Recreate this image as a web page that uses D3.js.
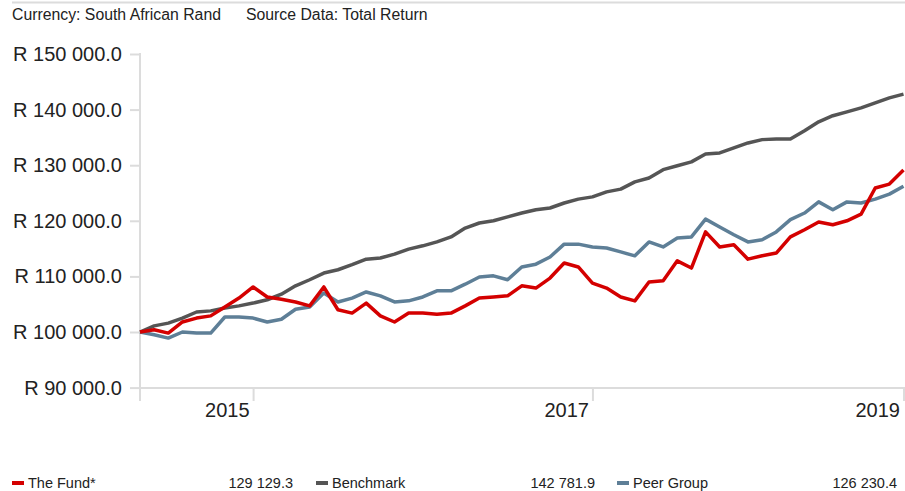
<!DOCTYPE html>
<html>
<head>
<meta charset="utf-8">
<script src="https://cdn.jsdelivr.net/npm/d3@7"></script>
<style>
  html, body { margin: 0; padding: 0; background: #fff; }
  svg { display: block; font-family: "Liberation Sans", Arial, sans-serif; }
</style>
</head>
<body>
<svg id="chart" width="905" height="491"></svg>
<script>
// ---- Data (monthly index points) ----
const fund = [100000,100400,99800,101800,102500,102900,104500,106100,108100,106300,
  105900,105400,104700,108100,104000,103400,105200,102900,101800,103400,
  103400,103200,103400,104700,106100,106300,106500,108300,107900,109700,
  112400,111700,108800,107900,106300,105600,109000,109200,112800,111500,
  118000,115300,115700,113100,113700,114200,117100,118400,119800,119300,
  120000,121200,125900,126600,129129.3];
const benchmark = [100000,101100,101600,102500,103600,103800,104300,104700,105200,105800,
  106800,108300,109400,110600,111200,112100,113100,113300,114000,114900,
  115500,116200,117100,118700,119600,120000,120700,121400,122000,122300,
  123200,123900,124300,125200,125700,127000,127700,129200,129900,130600,
  132000,132200,133100,134000,134600,134700,134700,136200,137800,138900,
  139600,140300,141200,142100,142781.9];
const peer = [100000,99500,98900,100000,99800,99800,102700,102700,102500,101800,
  102300,104100,104500,107000,105400,106100,107200,106500,105400,105600,
  106300,107400,107400,108600,109900,110100,109400,111700,112200,113500,
  115800,115800,115300,115100,114400,113700,116200,115300,116900,117100,
  120300,118900,117500,116200,116600,118000,120200,121400,123400,122000,
  123400,123200,123900,124800,126230.4];

const seriesNames = ["The Fund*", "Benchmark", "Peer Group"];
const seriesColors = ["#d40000", "#555555", "#5e7f97"];
const yTicks = [90000, 100000, 110000, 120000, 130000, 140000, 150000];
const xTickIndex = [8, 32, 54];
const xTickLabels = ["2015", "2017", "2019"];
const headerText = ["Currency: South African Rand", "Source Data: Total Return"];

// ---- Setup ----
const svg = d3.select("#chart");
const W = 905, H = 491;
const allSeries = [fund, benchmark, peer];
const n = fund.length;

const x = d3.scaleLinear().domain([0, n - 1]).range([140, 903.5]);
const y = d3.scaleLinear().domain([90000, 150000]).range([387.6, 54]);

const locale = d3.formatLocale({decimal: ".", thousands: " ", grouping: [3], currency: ["R ", ""]});
const fmtR = locale.format("$,.1f");
const fmtN = locale.format(",.1f");

const grid = "#dcdcdc";
const textColor = "#222";

// top rule
svg.append("line").attr("x1", 12).attr("x2", W).attr("y1", 2.5).attr("y2", 2.5)
  .attr("stroke", grid).attr("stroke-width", 2);

// header
const hdr = svg.append("text").attr("x", 12).attr("y", 20)
  .attr("font-size", 15.8).attr("fill", textColor);
hdr.append("tspan").text(headerText[0]);
hdr.append("tspan").attr("x", 246).text(headerText[1]);

// y axis
const yAxis = d3.axisLeft(y).tickValues(yTicks).tickSize(10).tickPadding(8).tickFormat(fmtR);
const gy = svg.append("g").attr("transform", "translate(140,0)").call(yAxis);
gy.select(".domain").remove();
gy.selectAll(".tick line").attr("stroke", grid).attr("stroke-width", 2);
gy.selectAll(".tick text").attr("font-size", 20).attr("fill", textColor)
  .attr("font-family", "'Liberation Sans', Arial, sans-serif");
svg.append("line").attr("x1", 140).attr("x2", 140).attr("y1", 53).attr("y2", 401)
  .attr("stroke", grid).attr("stroke-width", 2);

// x axis
svg.append("line").attr("x1", 140).attr("x2", W).attr("y1", 388).attr("y2", 388)
  .attr("stroke", grid).attr("stroke-width", 2);
const xAxis = d3.axisBottom(x).tickValues(xTickIndex).tickSize(13).tickPadding(0)
  .tickFormat((d, i) => xTickLabels[i]);
const gx = svg.append("g").attr("transform", "translate(0,388)").call(xAxis);
gx.select(".domain").remove();
gx.selectAll(".tick line").attr("stroke", grid).attr("stroke-width", 2);
gx.selectAll(".tick text").attr("font-size", 20).attr("fill", textColor)
  .attr("text-anchor", "end").attr("x", -4).attr("y", 29).attr("dy", 0)
  .attr("font-family", "'Liberation Sans', Arial, sans-serif");

// lines (draw peer, benchmark, then fund on top)
const line = d3.line().x((d, i) => x(i)).y(d => y(d));
[2, 1, 0].forEach(k => {
  svg.append("path").datum(allSeries[k]).attr("d", line)
    .attr("fill", "none").attr("stroke", seriesColors[k])
    .attr("stroke-width", 3.5).attr("stroke-linejoin", "round");
});

// legend
const legendX = [12, 316, 617];
const legendValX = [293, 595, 897];
const lg = svg.append("g").attr("font-size", 14.5).attr("fill", textColor);
seriesNames.forEach((name, k) => {
  lg.append("rect").attr("x", legendX[k]).attr("y", 481).attr("width", 12).attr("height", 4)
    .attr("fill", seriesColors[k]);
  lg.append("text").attr("x", legendX[k] + 16).attr("y", 488).text(name);
  const last = allSeries[k][allSeries[k].length - 1];
  lg.append("text").attr("x", legendValX[k]).attr("y", 488).attr("text-anchor", "end").text(fmtN(last));
});
</script>
</body>
</html>
